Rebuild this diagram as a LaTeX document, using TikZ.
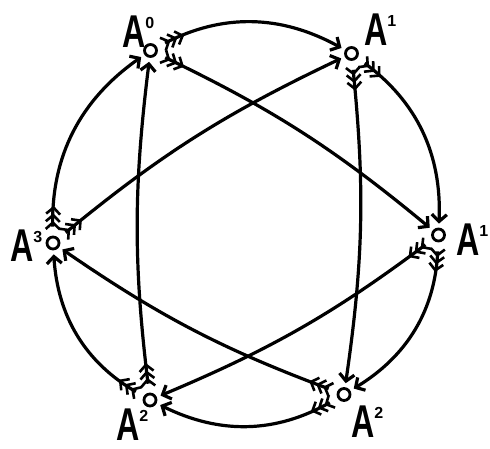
\documentclass[tikz,border=0pt]{standalone}
\usepackage{fontspec}
\setmainfont{Liberation Sans}
\usepackage{graphicx}
\usetikzlibrary{arrows.meta,decorations.markings}
\newcommand\fletchmark{\draw[line width=2.6pt,shorten <=0pt,shorten >=0pt,-] (-6.5pt,7pt) -- (0pt,0pt) -- (-6.5pt,-7pt);}
\newcommand\vlabel[2]{\scalebox{0.7}[1]{\fontsize{46}{46}\selectfont\bfseries #1}\raisebox{19pt}{\fontsize{16}{16}\selectfont\bfseries #2}}
\tikzset{
 vtx/.style={circle,draw,line width=2.8pt,minimum size=12pt,inner sep=0pt},
 lbl/.style={anchor=south west,inner sep=0pt},
 arr/.style={line width=3.2pt,-{Straight Barb[length=7pt,width=15pt]},shorten <=9pt,shorten >=4pt,
   postaction={decorate},
   decoration={markings,
     mark=at position 13pt with {\fletchmark},
     mark=at position 20.5pt with {\fletchmark},
     mark=at position 28pt with {\fletchmark}}},
 outerarc/.style={arr,bend left=28},
 innerarc/.style={arr,bend left=7},
}
\begin{document}
\begin{tikzpicture}[x=1pt,y=-1pt]
\useasboundingbox (0,0) rectangle (490,449);
\node[vtx] (A0) at (150.5,50.5) {};
\node[vtx] (A1t) at (351.5,53.5) {};
\node[vtx] (A1r) at (438.5,235) {};
\node[vtx] (A2br) at (344,394.5) {};
\node[vtx] (A2bl) at (150,400) {};
\node[vtx] (A3) at (53,243) {};
\node[lbl] (L0) at (122,48) {\vlabel{A}{0}};
\node[lbl] (L1t) at (364,46) {\vlabel{A}{1}};
\node[lbl] (L1r) at (456,256) {\vlabel{A}{1}};
\node[lbl] (L2br) at (351,438) {\vlabel{A}{2}};
\node[lbl] (L2bl) at (116,441) {\vlabel{A}{2}};
\node[lbl] (L3) at (10,262) {\vlabel{A}{3}};
\draw[outerarc] (A0) to (A1t);
\draw[outerarc] (A1t) to (A1r);
\draw[outerarc] (A1r) to (A2br);
\draw[outerarc] (A2br) to (A2bl);
\draw[outerarc] (A2bl) to (A3);
\draw[outerarc] (A3) to (A0);
\draw[innerarc] (A0) to (A1r);
\draw[innerarc] (A1t) to (A2br);
\draw[innerarc] (A1r) to (A2bl);
\draw[innerarc] (A2br) to (A3);
\draw[innerarc] (A2bl) to (A0);
\draw[innerarc] (A3) to (A1t);
\end{tikzpicture}
\end{document}
